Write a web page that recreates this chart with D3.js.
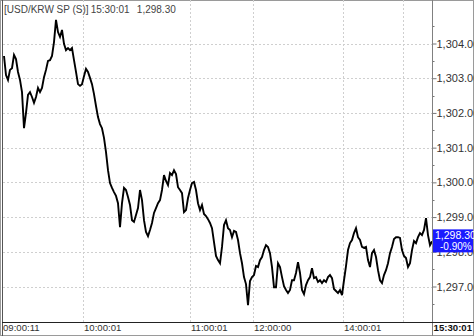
<!DOCTYPE html>
<html><head><meta charset="utf-8">
<script src="https://cdn.jsdelivr.net/npm/d3@7"></script>
<style>
html,body{margin:0;padding:0;background:#fff;}
svg{display:block;font-family:"Liberation Sans",Arial,sans-serif;}
</style></head>
<body>
<svg id="c" width="474" height="336"></svg>
<script>
// ---- data ----
const title = "[USD/KRW SP (S)]";
const lastTime = "15:30:01";
const lastPrice = 1298.30;
const changePct = "-0.90%";
const prices = [
1303.64,1303.09,1302.95,1303.24,1303.29,1303.67,1303.55,1303.18,1302.95,1302.60,
1301.56,1302.00,1302.52,1302.60,1302.46,1302.29,1302.46,1302.72,1302.60,1302.72,
1303.03,1303.24,1303.50,1303.52,1303.64,1304.04,1304.68,1304.33,1304.19,1304.39,
1303.99,1303.81,1303.87,1303.81,1303.87,1303.52,1303.18,1302.83,1302.78,1302.83,
1303.06,1303.27,1303.18,1303.01,1302.83,1302.54,1302.20,1301.88,1301.68,1301.56,
1301.28,1300.87,1300.35,1299.98,1299.84,1299.72,1299.61,1299.40,1298.71,1299.40,
1299.84,1299.78,1299.58,1299.35,1298.91,1298.86,1299.06,1299.26,1299.78,1299.49,
1298.91,1298.57,1298.45,1298.63,1298.83,1299.12,1299.26,1299.40,1299.49,1299.78,
1300.21,1300.04,1299.92,1300.27,1300.21,1300.35,1300.24,1299.86,1299.78,1299.69,
1299.14,1299.20,1299.55,1299.78,1299.98,1300.01,1299.78,1299.40,1299.20,1299.35,
1299.09,1299.03,1298.94,1298.83,1298.68,1298.28,1297.88,1297.76,1297.67,1298.14,
1298.77,1298.91,1298.68,1298.63,1298.42,1298.60,1298.57,1298.34,1297.96,1297.67,
1297.27,1297.07,1296.46,1297.16,1297.27,1297.33,1297.59,1297.56,1297.76,1297.85,
1298.05,1298.19,1298.14,1297.96,1297.56,1296.98,1296.98,1297.67,1297.56,1297.27,
1297.01,1296.90,1296.81,1296.90,1297.18,1297.18,1297.39,1297.70,1297.39,1296.90,
1296.78,1297.04,1297.18,1297.27,1297.53,1297.24,1297.27,1297.13,1297.18,1297.10,
1297.18,1297.13,1297.27,1297.33,1297.24,1296.93,1296.87,1296.81,1296.90,1296.75,
1297.18,1297.59,1298.05,1298.25,1298.34,1298.54,1298.68,1298.42,1298.34,1298.14,
1298.11,1298.14,1297.76,1297.56,1297.96,1298.05,1297.85,1297.47,1297.18,1297.10,
1297.33,1297.47,1297.67,1297.96,1298.14,1298.37,1298.42,1298.42,1298.40,1298.05,
1297.88,1297.82,1297.56,1297.67,1298.05,1298.31,1298.25,1298.42,1298.54,1298.48,
1298.63,1298.97,1298.48,1298.19,1298.30
];
const yTicks = [1297,1298,1299,1300,1301,1302,1303,1304];
const yMinor = [1296.5,1297.5,1298.5,1299.5,1300.5,1301.5,1302.5,1303.5,1304.5];
const xTickIdx = [0, 39.5, 93, 124.5, 169.5, 199.5];
const xTickLabels = ["09:00:11","10:00:01","11:00:01","12:00:00","14:00:01",""];

// ---- layout ----
const W = 474, H = 336;
const L = 4, R = 432, axisY = 322;
const svg = d3.select("#c");

const x = d3.scaleLinear().domain([0, prices.length - 1]).range([L, R]);
const y = d3.scaleLinear().domain([1297, 1304]).range([286.5, 43.5]);

// outer frame
svg.append("rect").attr("x",0.5).attr("y",0.5).attr("width",W-1).attr("height",H-1)
  .attr("fill","none").attr("stroke","#9a9a9a");
svg.append("line").attr("x1",2.5).attr("x2",2.5).attr("y1",0).attr("y2",H)
  .attr("stroke","#555");

// grid
const grid = svg.append("g");
grid.selectAll("line.h").data(yTicks).join("line")
  .attr("x1",3).attr("x2",R).attr("y1",d=>Math.round(y(d))+0.5).attr("y2",d=>Math.round(y(d))+0.5)
  .attr("stroke","#cfcfcf").attr("stroke-dasharray","2,2");
grid.selectAll("line.v").data(xTickIdx.slice(1)).join("line")
  .attr("x1",d=>Math.round(x(d))+0.5).attr("x2",d=>Math.round(x(d))+0.5).attr("y1",0).attr("y2",axisY)
  .attr("stroke","#cfcfcf").attr("stroke-dasharray","2,2");

// price line
const clip = svg.append("clipPath").attr("id","pc").append("rect")
  .attr("x",3).attr("y",0).attr("width",R-3).attr("height",axisY);
svg.append("path").datum(prices)
  .attr("clip-path","url(#pc)")
  .attr("fill","none").attr("stroke","#000").attr("stroke-width",1.9)
  .attr("stroke-linejoin","miter")
  .attr("d", d3.line().x((d,i)=>x(i)).y(d=>y(d)));

// right axis
const ya = svg.append("g").attr("transform",`translate(${R+0.5},0)`)
  .call(d3.axisRight(y).tickValues(yTicks).tickSize(4).tickPadding(0)
    .tickFormat(d=>d3.format(",.2f")(d)));
ya.select(".domain").remove();
ya.selectAll(".tick line").attr("stroke","#777");
ya.selectAll(".tick text").attr("fill","#333").attr("font-size",11)
  .attr("font-family","Liberation Sans, Arial, sans-serif").attr("x",4);
svg.append("g").selectAll("line").data(yMinor).join("line")
  .attr("x1",R).attr("x2",R+2.5).attr("y1",d=>Math.round(y(d))+0.5).attr("y2",d=>Math.round(y(d))+0.5)
  .attr("stroke","#777");
svg.append("line").attr("x1",R+0.5).attr("x2",R+0.5).attr("y1",0).attr("y2",H)
  .attr("stroke","#808080");

// current price badge
const by = y(lastPrice);
svg.append("rect").attr("x",R+1).attr("y",by-12).attr("width",W-R-2).attr("height",23)
  .attr("fill","#1a1aff");
svg.append("text").attr("x",R+3).attr("y",by-2).attr("fill","#fff").attr("font-size",10.5)
  .text(d3.format(",.2f")(lastPrice));
svg.append("text").attr("x",R+8).attr("y",by+9).attr("fill","#fff").attr("font-size",10)
  .text(changePct);

// x axis strip
svg.append("line").attr("x1",2).attr("x2",W).attr("y1",axisY+0.5).attr("y2",axisY+0.5)
  .attr("stroke","#222");
svg.append("g").selectAll("text").data(xTickIdx).join("text")
  .attr("x",(d,i)=> i===0 ? 3 : Math.round(x(d))+1)
  .attr("y",331).attr("font-size",9.6).attr("fill","#333")
  .text((d,i)=>xTickLabels[i]);
svg.append("text").attr("x",W-2).attr("y",331).attr("text-anchor","end")
  .attr("font-size",9.6).attr("font-weight","bold").attr("fill","#111").text(lastTime);

// title
const t = svg.append("text").attr("x",4).attr("y",13).attr("font-size",10).attr("fill","#444");
t.append("tspan").text(title);
t.append("tspan").attr("dx",2).text(lastTime);
t.append("tspan").attr("dx",8).text(d3.format(",.2f")(lastPrice));
</script>
</body></html>
